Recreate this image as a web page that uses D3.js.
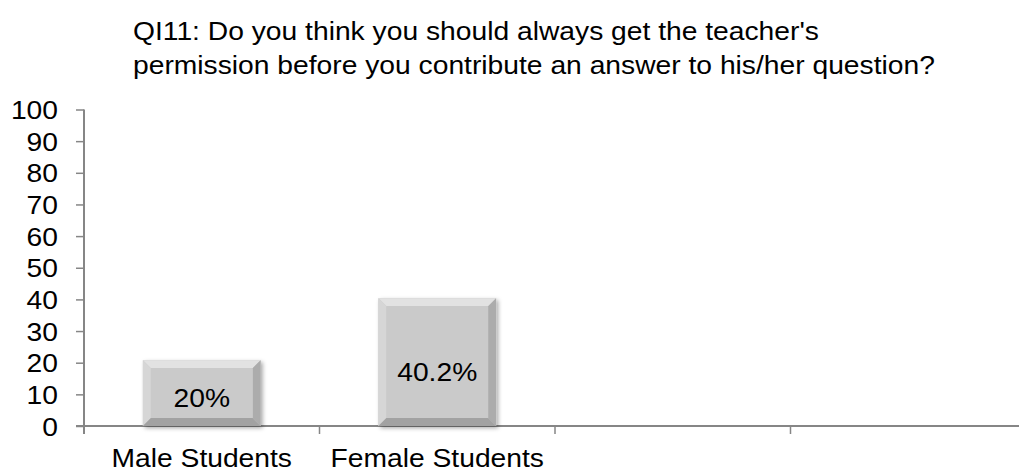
<!DOCTYPE html>
<html>
<head>
<meta charset="utf-8">
<script src="https://cdn.jsdelivr.net/npm/d3@7"></script>
<style>
  html, body { margin: 0; padding: 0; background: #fff; }
  svg { display: block; font-family: "Liberation Sans", Arial, sans-serif; }
</style>
</head>
<body>
<svg id="chart" width="1019" height="472"></svg>
<script>
const titleLines = ["QI11: Do you think you should always get the teacher's",
                    "permission before you contribute an answer to his/her question?"];
const categories = ["Male Students", "Female Students", "", " "];
const values = [20.8, 40.4, null, null];
const labels = ["20%", "40.2%", "", ""];
const yTicks = [0, 10, 20, 30, 40, 50, 60, 70, 80, 90, 100];

const W = 1019, H = 472;
const m = { left: 84, top: 109.5, bottom: 46 };
const plotRight = 1026;
const svg = d3.select("#chart");
const SX = 1.13;
const axisColor = "#868686";

const x = d3.scaleBand().domain(categories).range([m.left, plotRight]).padding(0);
const y = d3.scaleLinear().domain([0, 100]).range([H - m.bottom, m.top]);

// defs
const defs = svg.append("defs");
const f = defs.append("filter").attr("id", "shadow").attr("x", "-20%").attr("y", "-20%").attr("width", "140%").attr("height", "140%");
f.append("feDropShadow").attr("dx", 2).attr("dy", 2).attr("stdDeviation", 2).attr("flood-color", "#000").attr("flood-opacity", 0.35);

// Title
const title = svg.append("g");
titleLines.forEach((t, i) => {
  title.append("text").attr("transform", `translate(133,${40 + i * 34}) scale(${SX},1)`)
    .attr("font-size", 25).attr("fill", "#000").text(t);
});

// Y axis
const yAxis = svg.append("g").attr("transform", `translate(${m.left},0)`)
  .call(d3.axisLeft(y).tickValues(yTicks).tickSize(8).tickFormat(d3.format("d")));
yAxis.select(".domain").attr("stroke", axisColor).attr("stroke-width", 2)
  .attr("d", `M0,${y(0) + 8}V${y(100)}`);
yAxis.selectAll(".tick line").attr("stroke", axisColor).attr("stroke-width", 1.5);
yAxis.selectAll(".tick text").attr("x", 0).attr("dy", "0.36em")
  .attr("transform", `translate(-26,0) scale(${SX},1)`)
  .attr("font-size", 25).attr("fill", "#000").attr("font-family", "Liberation Sans, Arial, sans-serif");

// X axis line and ticks
const xg = svg.append("g").attr("transform", `translate(0,${y(0)})`);
xg.append("line").attr("x1", m.left - 8).attr("x2", plotRight).attr("y1", 0).attr("y2", 0)
  .attr("stroke", axisColor).attr("stroke-width", 2);
const bounds = categories.map(c => x(c)).concat([plotRight]);
xg.selectAll("line.tk").data(bounds.slice(1)).join("line").attr("class", "tk")
  .attr("x1", d => d).attr("x2", d => d).attr("y1", 0).attr("y2", 8)
  .attr("stroke", axisColor).attr("stroke-width", 1.5);
xg.selectAll("text.cat").data(categories).join("text").attr("class", "cat")
  .attr("transform", d => `translate(${x(d) + x.bandwidth() / 2},${41}) scale(${SX},1)`)
  .attr("text-anchor", "middle").attr("font-size", 25).attr("fill", "#000").text(d => d.trim());

// Bars with bevel
const bw = x.bandwidth() * 0.5;
const bevel = 8;
const data = categories.map((c, i) => ({ c, v: values[i], l: labels[i] })).filter(d => d.v != null);
const bars = svg.append("g").selectAll("g.bar").data(data).join("g").attr("class", "bar");
bars.each(function (d) {
  const g = d3.select(this);
  const x0 = x(d.c) + (x.bandwidth() - bw) / 2, x1 = x0 + bw;
  const y0 = y(d.v), y1 = y(0);
  const b = Math.min(bevel, (y1 - y0) / 3);
  g.append("rect").attr("x", x0).attr("y", y0).attr("width", bw).attr("height", y1 - y0)
    .attr("fill", "#c9c9c9").attr("filter", "url(#shadow)");
  const poly = (pts, fill) => g.append("polygon").attr("points", pts.map(p => p.join(",")).join(" ")).attr("fill", fill);
  poly([[x0, y0], [x1, y0], [x1 - b, y0 + b], [x0 + b, y0 + b]], "#e2e2e2");
  poly([[x0, y0], [x0 + b, y0 + b], [x0 + b, y1 - b], [x0, y1]], "#d6d6d6");
  poly([[x1, y0], [x1, y1], [x1 - b, y1 - b], [x1 - b, y0 + b]], "#acacac");
  poly([[x0, y1], [x0 + b, y1 - b], [x1 - b, y1 - b], [x1, y1]], "#a2a2a2");
  g.append("rect").attr("x", x0 + b).attr("y", y0 + b).attr("width", bw - 2 * b).attr("height", y1 - y0 - 2 * b)
    .attr("fill", "#cacaca");
  g.append("text")
    .attr("transform", `translate(${(x0 + x1) / 2},${y(d.v * 0.42)}) scale(${SX},1)`)
    .attr("text-anchor", "middle").attr("dy", "0.36em")
    .attr("font-size", 25).attr("fill", "#000").text(d.l);
});
</script>
</body>
</html>
